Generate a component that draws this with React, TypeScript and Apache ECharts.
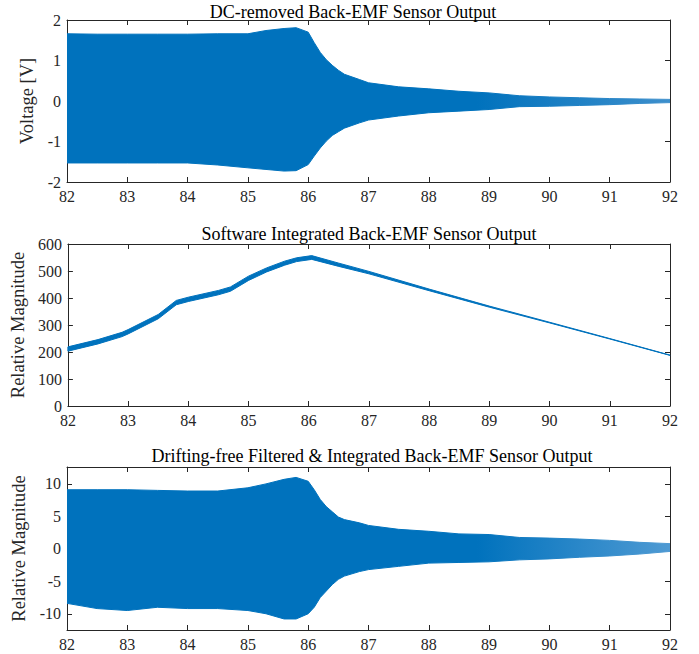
import { useEffect, useRef } from "react";
import * as echarts from "echarts";

// ---------- data ----------
const xTickValues = [82, 83, 84, 85, 86, 87, 88, 89, 90, 91, 92];

// Plot 1: DC-removed Back-EMF (envelope of the dense oscillation)
const tEnv = [82, 82.5, 83, 83.5, 84, 84.5, 85, 85.3, 85.6, 85.8, 86.0, 86.1, 86.2, 86.3, 86.4, 86.5, 86.6, 86.85, 87, 87.5, 88, 88.5, 89, 89.5, 90, 90.5, 91, 91.5, 92];
const voltUpper = [1.66, 1.65, 1.65, 1.65, 1.65, 1.66, 1.66, 1.74, 1.79, 1.81, 1.7, 1.44, 1.2, 1.02, 0.88, 0.76, 0.66, 0.53, 0.45, 0.35, 0.3, 0.24, 0.2, 0.13, 0.1, 0.08, 0.06, 0.05, 0.04];
const voltLower = [-1.53, -1.53, -1.53, -1.53, -1.53, -1.58, -1.65, -1.69, -1.73, -1.72, -1.57, -1.36, -1.16, -0.99, -0.85, -0.76, -0.67, -0.54, -0.47, -0.37, -0.29, -0.25, -0.21, -0.14, -0.13, -0.11, -0.09, -0.06, -0.04];

// Plot 2: Software integrated output (centre line and half spread)
const tInt = [82, 82.5, 82.9, 83, 83.5, 83.8, 84, 84.5, 84.7, 85, 85.3, 85.6, 85.8, 86.05, 86.5, 87, 88, 89, 90, 91, 92];
const intCenter = [211, 238, 265, 275, 331, 383, 395, 420, 433, 473, 504, 529, 542, 550, 523, 494, 430, 368, 309, 249, 188];
const intSpread = [8, 8, 8, 8, 8, 8, 8, 8, 8, 8, 7.5, 7.5, 7, 7, 6, 4.5, 3, 2, 1.2, 0.8, 0.5];

// Plot 3: Drifting-free filtered & integrated output (envelope)
const filtUpper = [9.1, 9.1, 9.1, 9.0, 8.9, 8.9, 9.4, 10.0, 10.7, 11.0, 10.4, 9.1, 7.6, 6.5, 5.7, 4.9, 4.5, 4.0, 3.6, 3.0, 2.7, 2.3, 2.2, 1.75, 1.65, 1.5, 1.3, 1.0, 0.8];
const filtLower = [-8.4, -9.2, -9.5, -9.0, -9.2, -9.2, -9.5, -10.0, -10.8, -10.8, -10.0, -9.0, -7.5, -6.5, -5.5, -4.7, -4.2, -3.5, -3.2, -2.7, -2.2, -2.1, -2.0, -1.7, -1.55, -1.3, -1.1, -0.8, -0.4];
const filtTicks = [-10, -5, 0, 5, 10];

const titles = [
  "DC-removed Back-EMF Sensor Output",
  "Software Integrated Back-EMF Sensor Output",
  "Drifting-free Filtered & Integrated Back-EMF Sensor Output",
];
const yNames = ["Voltage [V]", "Relative Magnitude", "Relative Magnitude"];

// ---------- styling ----------
const BLUE = "#0072BD";
const AX = "#262626";
const FONT = "Liberation Serif";

export default function App() {
  const ref = useRef<HTMLDivElement>(null);

  useEffect(() => {
    if (!ref.current) return;
    const chart = echarts.init(ref.current, undefined, { renderer: "svg" });

    const grids = [
      { left: 67, top: 20, width: 603, height: 162 },
      { left: 67, top: 244, width: 603, height: 162 },
      { left: 67, top: 467, width: 603, height: 163 },
    ];

    const labelStyle = { show: true, color: AX, fontFamily: FONT, fontSize: 16, margin: 6 };

    const xAxes: any[] = [];
    grids.forEach((_, g) => {
      const base = {
        type: "value",
        gridIndex: g,
        min: xTickValues[0],
        max: xTickValues[xTickValues.length - 1],
        interval: 1,
        splitLine: { show: false },
        axisLine: { show: true, onZero: false, lineStyle: { color: AX, width: 1 } },
        axisTick: { show: true, inside: true, length: 5, lineStyle: { color: AX } },
      };
      xAxes.push({ ...base, position: "bottom", axisLabel: { ...labelStyle } });
      xAxes.push({ ...base, position: "top", axisLabel: { show: false } });
    });

    const yCfg = [
      { min: -2, max: 2, interval: 1, gap: 29 },
      { min: 0, max: 600, interval: 100, gap: 39 },
      { min: -12.5, max: 12.6, custom: filtTicks, gap: 38 },
    ];
    const yAxes: any[] = [];
    yCfg.forEach((c, g) => {
      const base: any = {
        type: "value",
        gridIndex: g,
        min: c.min,
        max: c.max,
        splitLine: { show: false },
        axisLine: { show: true, onZero: false, lineStyle: { color: AX, width: 1 } },
        axisTick: { show: true, inside: true, length: 5, lineStyle: { color: AX } },
      };
      if (c.interval) base.interval = c.interval;
      if (c.custom) base.axisTick = { ...base.axisTick, customValues: c.custom };
      yAxes.push({
        ...base,
        position: "left",
        name: yNames[g],
        nameLocation: "middle",
        nameGap: c.gap,
        nameTextStyle: { color: AX, fontFamily: FONT, fontSize: 18.5 },
        axisLabel: { ...labelStyle, ...(c.custom ? { customValues: c.custom } : {}) },
      });
      yAxes.push({ ...base, position: "right", axisLabel: { show: false } });
    });

    const fillFor = (fade: string | null) =>
      fade
        ? new echarts.graphic.LinearGradient(0, 0, 1, 0, [
            { offset: 0, color: BLUE },
            { offset: 0.68, color: BLUE },
            { offset: 1, color: fade },
          ])
        : BLUE;

    const band = (t: number[], up: number[], lo: number[], g: number, fade: string | null) => ({
      type: "custom",
      xAxisIndex: g * 2,
      yAxisIndex: g * 2,
      clip: true,
      data: t.map((x, i) => [x, up[i], lo[i]]),
      encode: { x: 0, y: [1, 2] },
      renderItem: (params: any, api: any) => {
        if (params.dataIndex !== 0) return { type: "group", children: [] };
        const pts: number[][] = [];
        for (let i = 0; i < t.length; i++) pts.push(api.coord([t[i], up[i]]));
        for (let i = t.length - 1; i >= 0; i--) pts.push(api.coord([t[i], lo[i]]));
        const c = fillFor(fade);
        return {
          type: "polygon",
          shape: { points: pts },
          style: { fill: c, stroke: c, lineWidth: 1 },
        };
      },
    });

    const intUpper = intCenter.map((v, i) => v + intSpread[i]);
    const intLower = intCenter.map((v, i) => v - intSpread[i]);

    const titleCenters = [353, 369, 372];
    const titleTops = [3, 225, 447];

    chart.setOption({
      animation: false,
      backgroundColor: "#ffffff",
      textStyle: { fontFamily: FONT },
      title: titles.map((txt, i) => ({
        text: txt,
        left: titleCenters[i],
        top: titleTops[i],
        textAlign: "center",
        padding: 0,
        textStyle: { color: "#000", fontFamily: FONT, fontSize: 18, fontWeight: "normal" },
      })),
      grid: grids,
      xAxis: xAxes,
      yAxis: yAxes,
      series: [
        band(tEnv, voltUpper, voltLower, 0, "#3d8fcc"),
        band(tInt, intUpper, intLower, 1, null),
        band(tEnv, filtUpper, filtLower, 2, "#4f9ad3"),
      ],
    });

    return () => chart.dispose();
  }, []);

  return (
    <div
      ref={ref}
      style={{ position: "fixed", left: 0, top: 0, width: 699, height: 654, background: "#fff" }}
    />
  );
}
